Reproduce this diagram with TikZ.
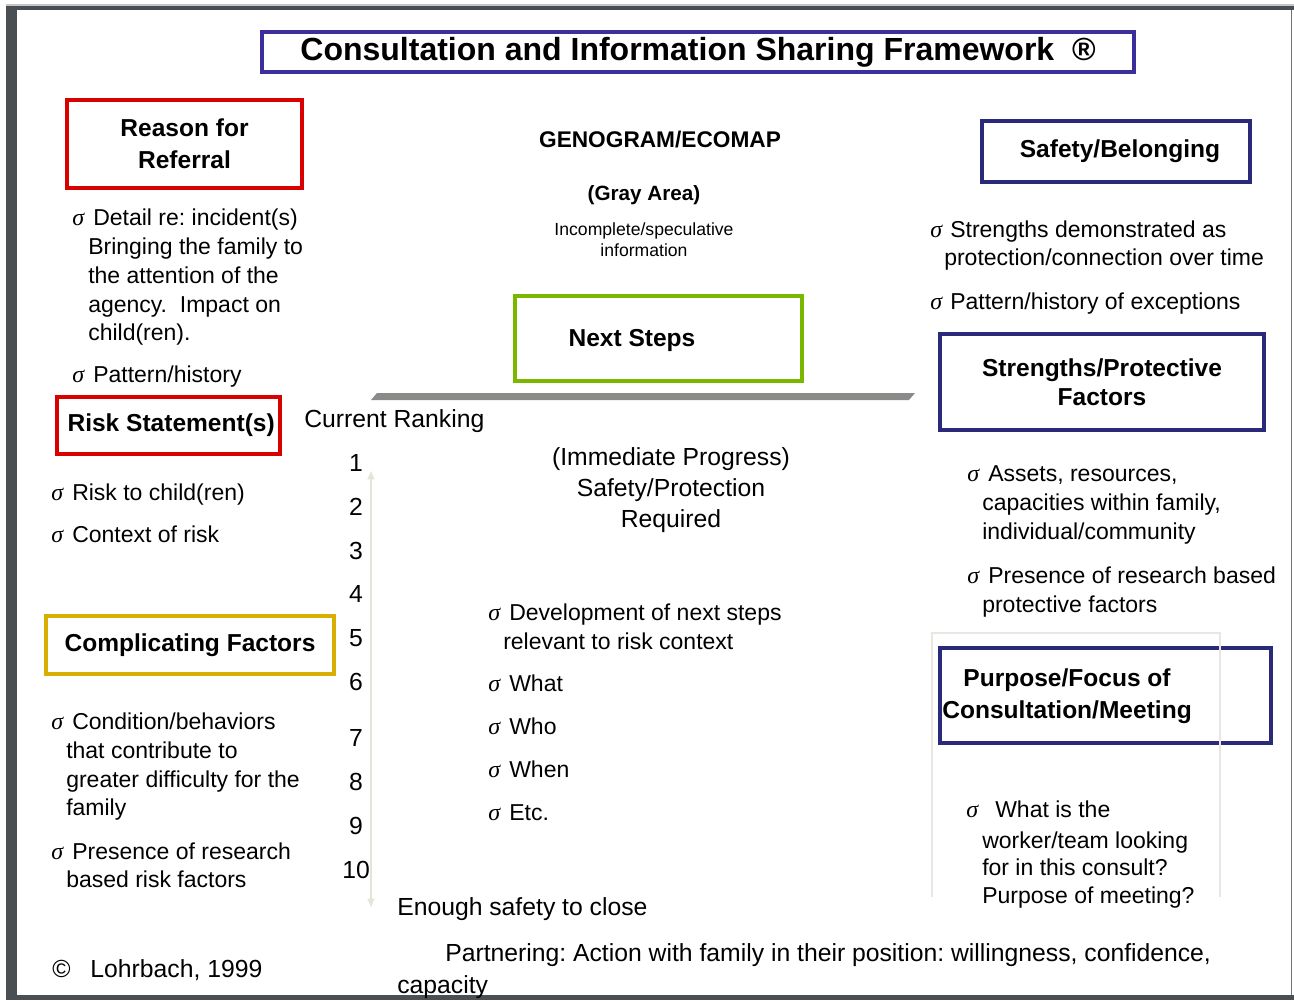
\documentclass[tikz,border=0pt]{standalone}
\usepackage{fontspec}
\setmainfont{Liberation Sans}
\newfontfamily\bulfont{Liberation Serif}
\usetikzlibrary{arrows.meta}
\frenchspacing
\definecolor{titleblue}{HTML}{3B2F9C}
\definecolor{boxred}{HTML}{D90000}
\definecolor{navy}{HTML}{2B2A7A}
\definecolor{lime}{HTML}{7AB800}
\definecolor{gold}{HTML}{D8AE00}
\definecolor{framegray}{HTML}{4A4F53}
\definecolor{bargray}{HTML}{8A8A88}
\definecolor{faintline}{HTML}{EAE7E3}
\definecolor{arrowgray}{HTML}{E4E4DA}
\newcommand\bodyf{\fontsize{17.25pt}{21.75pt}\selectfont}
\newcommand\bigf{\fontsize{18.55pt}{22pt}\selectfont}
\newcommand\headf{\bfseries\fontsize{18.4pt}{23pt}\selectfont}
\newcommand\bul[3]{\node[bulsty] (#1) at (#2,#3) {σ};}
\newcommand\tline[4]{\node[txt] (#1) at (#2,#3) {#4};}
\begin{document}
\begin{tikzpicture}[x=0.75pt,y=-0.75pt,
  txt/.style={inner sep=0pt,anchor=base west,font=\bodyf},
  ctxt/.style={inner sep=0pt,anchor=base,font=\bodyf},
  bulsty/.style={inner sep=0pt,anchor=base west,font=\bulfont\itshape\fontsize{18pt}{20pt}\selectfont},
  hbox/.style={draw=#1,line width=3pt,inner sep=0pt,align=center,font=\headf,fill=white},
  ]
\useasboundingbox (0,0) rectangle (1294,1000);
\fill[white] (0,0) rectangle (1294,1000);
% frame
\fill[gray!45] (6,4) rectangle (1294,6);
\fill[framegray] (6,6) rectangle (1294,10);
\fill[framegray] (6,6) rectangle (17,1000);
\fill[framegray] (6,995) rectangle (1294,1000);
\fill[framegray!80] (1290.5,10) rectangle (1292,995);

% title
\node[draw=titleblue,line width=3pt,minimum width=872*0.75pt,minimum height=40*0.75pt,inner sep=0pt,
  font=\bfseries\fontsize{24pt}{28pt}\selectfont] (title) at (698,52)
  {Consultation and Information Sharing Framework~~®};

% left column
\node[hbox=boxred,minimum width=235*0.75pt,minimum height=88*0.75pt] (reason) at (184.5,144) {Reason for\\[1pt]Referral};
\bul{b1}{72}{225}\tline{l1}{93}{225}{Detail re: incident(s)}
\tline{l2}{88}{254}{Bringing the family to}
\tline{l3}{88}{283}{the attention of the}
\tline{l4}{88}{312}{agency.~ Impact on}
\tline{l5}{88}{340}{child(ren).}
\bul{b2}{72}{382}\tline{l6}{93}{382}{Pattern/history}

\node[hbox=boxred,minimum width=223*0.75pt,minimum height=57*0.75pt] (risk) at (168.5,425.5) {\hspace*{4pt}Risk Statement(s)};
\bul{b3}{51}{500}\tline{l7}{72}{500}{Risk to child(ren)}
\bul{b4}{51}{542}\tline{l8}{72}{542}{Context of risk}

\node[hbox=gold,minimum width=288*0.75pt,minimum height=58*0.75pt] (compl) at (190,645) {Complicating Factors};
\bul{b5}{51}{729}\tline{l9}{72}{729}{Condition/behaviors}
\tline{l10}{66}{758}{that contribute to}
\tline{l11}{66}{787}{greater difficulty for the}
\tline{l12}{66}{815}{family}
\bul{b6}{51}{859}\tline{l13}{72}{859}{Presence of research}
\tline{l14}{66}{887}{based risk factors}
\node[txt,font=\bigf] (copy) at (52,977) {©\hspace{15pt}Lohrbach, 1999};

% centre
\node[ctxt,font=\bfseries\fontsize{17pt}{20pt}\selectfont] (geno) at (660,147) {GENOGRAM/ECOMAP};
\node[ctxt,font=\bfseries\fontsize{15.5pt}{18pt}\selectfont] (gray) at (644,200) {(Gray Area)};
\node[ctxt,font=\fontsize{13.2pt}{16pt}\selectfont] (inc1) at (644,235) {Incomplete/speculative};
\node[ctxt,font=\fontsize{13.2pt}{16pt}\selectfont] (inc2) at (644,256) {information};

\node[draw=lime,line width=3pt,minimum width=287*0.75pt,minimum height=85*0.75pt,inner sep=0pt] (nextbox) at (658.5,338.5) {};
\node[ctxt,font=\headf] (next) at (632,346) {Next Steps};

\fill[bargray] (371,400) -- (377,393) -- (915,393) -- (909,400) -- cycle;

\node[txt,font=\bigf] (rank) at (304,427) {Current Ranking};
\foreach \n/\yy in {1/471,2/515,3/559,4/602,5/646,6/690,7/746,8/790,9/834,10/878}{
  \node[ctxt,font=\bigf] (num\n) at (356,\yy) {\n};
}
\coordinate (arT) at (371,470);
\coordinate (arB) at (371,908);
\draw[arrowgray,line width=1.8pt,{Latex[length=7pt,width=6pt]}-{Latex[length=7pt,width=6pt]}] (arT) -- (arB);

\node[ctxt,font=\bigf] (imm1) at (671,465) {(Immediate Progress)};
\node[ctxt,font=\bigf] (imm2) at (671,496) {Safety/Protection};
\node[ctxt,font=\bigf] (imm3) at (671,527) {Required};

\bul{b7}{488}{620}\tline{c1}{509}{620}{Development of next steps}
\tline{c2}{503}{649}{relevant to risk context}
\bul{b8}{488}{691}\tline{c3}{509}{691}{What}
\bul{b9}{488}{734}\tline{c4}{509}{734}{Who}
\bul{b10}{488}{777}\tline{c5}{509}{777}{When}
\bul{b11}{488}{820}\tline{c6}{509}{820}{Etc.}

\node[txt,font=\bigf] (enough) at (397,915) {Enough safety to close};
\node[txt,font=\bigf] (part1) at (445,961) {Partnering: Action with family in their position: willingness, confidence,};
\node[txt,font=\bigf] (part2) at (397,993) {capacity};

% right column
\node[hbox=navy,minimum width=268*0.75pt,minimum height=61*0.75pt] (safety) at (1116,151.5) {\hspace*{6pt}Safety/Belonging};
\bul{b12}{930}{237}\tline{r1}{950}{237}{Strengths demonstrated as}
\tline{r2}{944}{265}{protection/connection over time}
\bul{b13}{930}{309}\tline{r3}{950}{309}{Pattern/history of exceptions}

\node[hbox=navy,minimum width=324*0.75pt,minimum height=96*0.75pt] (strength) at (1102,382) {Strengths/Protective\\[-1pt]Factors};
\bul{b14}{967}{481}\tline{r4}{988}{481}{Assets, resources,}
\tline{r5}{982}{510}{capacities within family,}
\tline{r6}{982}{539}{individual/community}
\bul{b15}{967}{583}\tline{r7}{988}{583}{Presence of research based}
\tline{r8}{982}{612}{protective factors}

\node[draw=navy,line width=3pt,minimum width=331*0.75pt,minimum height=95*0.75pt,inner sep=0pt] (purpbox) at (1105.5,695.5) {};
\node[ctxt,font=\headf] (purp1) at (1067,686) {Purpose/Focus of};
\node[ctxt,font=\headf] (purp2) at (1067,718) {Consultation/Meeting};
\draw[faintline,line width=0.8pt] (932,897) -- (932,633) -- (1220,633) -- (1220,897);

\bul{b16}{966}{817}\tline{r9}{995}{817}{What is the}
\tline{r10}{982}{848}{worker/team looking}
\tline{r11}{982}{875}{for in this consult?}
\tline{r12}{982}{903}{Purpose of meeting?}
\end{tikzpicture}
\end{document}
